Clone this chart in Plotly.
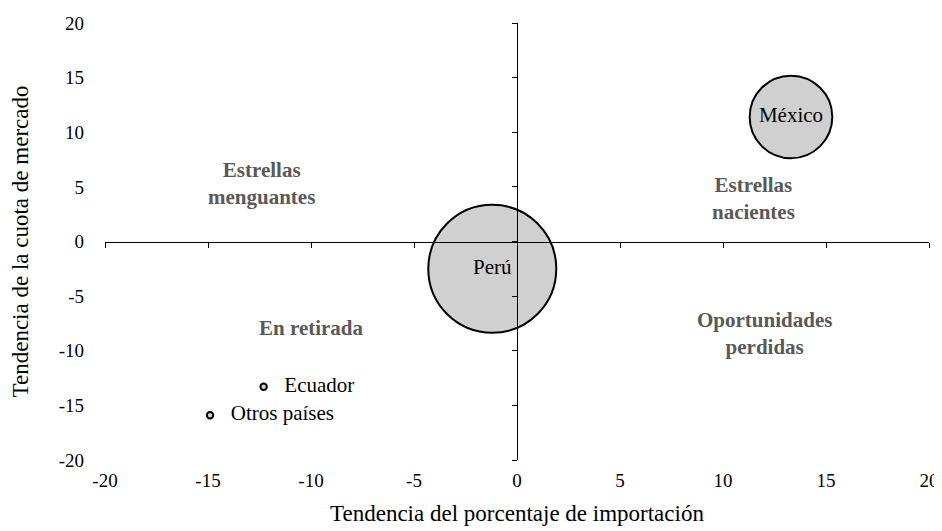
import plotly.graph_objects as go

# datos de la matriz de competitividad
paises = ["Perú", "México", "Ecuador", "Otros países"]
tend_importacion = [-1.2, 13.3, -12.3, -14.9]
tend_cuota = [-2.5, 11.4, -13.3, -15.9]
participacion = [60, 25, 0.15, 0.15]
posicion_texto = ["middle center", "middle center", "middle right", "middle right"]
plantilla_texto = ["%{text}", "%{text}", "   %{text}", "   %{text}"]

cuadrantes = ["Estrellas<br>menguantes", "Estrellas<br>nacientes", "En retirada", "Oportunidades<br>perdidas"]
cuad_x = [-12.4, 11.5, -10.0, 12.0]
cuad_y = [5.3, 3.9, -7.9, -8.4]

ticks = [-20, -15, -10, -5, 0, 5, 10, 15, 20]
tick_txt = ["-20", "-15", "-10", "-5", "0", "5", "10", "15", "20"]

serif = "Liberation Serif"

fig = go.Figure()
fig.add_trace(go.Scatter(
    x=tend_importacion, y=tend_cuota, mode="markers+text",
    text=paises, textposition=posicion_texto, texttemplate=plantilla_texto,
    textfont=dict(family=serif, size=21, color="black"),
    marker=dict(size=participacion, sizemode="area", sizeref=2 * max(participacion) / 128 ** 2,
                color="#d0d0d0", opacity=1, line=dict(color="black", width=2)),
    hoverinfo="text", showlegend=False,
))
# ejes centrales (cruzan en cero)
fig.add_trace(go.Scatter(x=[], y=[], xaxis="x2", yaxis="y2", showlegend=False, hoverinfo="skip"))

for t, xx, yy in zip(cuadrantes, cuad_x, cuad_y):
    fig.add_annotation(x=xx, y=yy, text="<b>" + t + "</b>", showarrow=False,
                       font=dict(family=serif, size=21, color="#595959"))

ax_common = dict(range=[-20, 20], tickvals=ticks, ticktext=tick_txt, showgrid=False,
                 zeroline=False, automargin=False)
fig.update_layout(
    width=942, height=531,
    margin=dict(l=97, r=21, t=15, b=79),
    paper_bgcolor="white", plot_bgcolor="white",
    font=dict(family=serif, size=19, color="black"),
    showlegend=False,
    xaxis=dict(**ax_common, showline=False, ticks="", ticklabelstandoff=7,
               tickfont=dict(family=serif, size=19),
               title=dict(text="Tendencia del porcentaje de importación",
                          font=dict(family=serif, size=23), standoff=14)),
    yaxis=dict(**ax_common, showline=False, ticks="", ticklabelstandoff=20,
               tickfont=dict(family=serif, size=19),
               title=dict(text="Tendencia de la cuota de mercado",
                          font=dict(family=serif, size=23), standoff=34)),
    xaxis2=dict(**ax_common, overlaying="x", anchor="free", position=0.5, showline=True,
                linecolor="black", linewidth=1, ticks="outside", ticklen=5, tickcolor="black",
                showticklabels=False),
    yaxis2=dict(**ax_common, overlaying="y", anchor="free", position=0.5, showline=True,
                linecolor="black", linewidth=1, ticks="outside", ticklen=5, tickcolor="black",
                showticklabels=False),
)

fig.write_html("out.html")
